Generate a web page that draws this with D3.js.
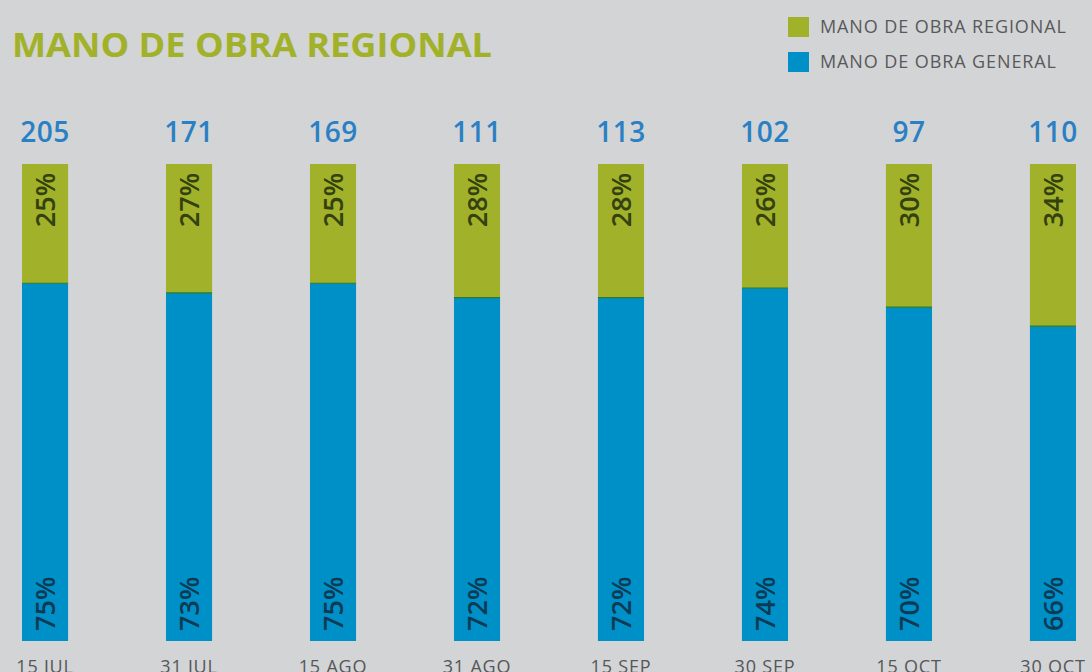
<!DOCTYPE html>
<html>
<head>
<meta charset="utf-8">
<script src="https://cdn.jsdelivr.net/npm/d3@7"></script>
<style>
  html, body { margin: 0; padding: 0; background: #d3d4d6; }
  svg { display: block; font-family: "Open Sans", sans-serif; }
</style>
</head>
<body>
<script>
// data
var fechas = ["15 JUL", "31 JUL", "15 AGO", "31 AGO", "15 SEP", "30 SEP", "15 OCT", "30 OCT"];
var totales = [205, 171, 169, 111, 113, 102, 97, 110];
var general = [75, 73, 75, 72, 72, 74, 70, 66];
var regional = [25, 27, 25, 28, 28, 26, 30, 34];
var series = ["MANO DE OBRA REGIONAL", "MANO DE OBRA GENERAL"];

var w = 1092, h = 672;
var verde = "#a1b22a", azul = "#0090c8";

var svg = d3.select("body").append("svg")
    .attr("width", w)
    .attr("height", h);

svg.append("rect").attr("width", w).attr("height", h).attr("fill", "#d3d4d6");

var x = d3.scaleBand()
    .domain(fechas)
    .range([22, 1076])
    .paddingInner(0.68)
    .paddingOuter(0);

var y = d3.scaleLinear()
    .domain([0, 100])
    .range([641, 164]);

var rows = fechas.map(function(f, i) {
  return {fecha: f, total: totales[i], general: general[i], regional: regional[i]};
});

var bar = svg.selectAll("g.bar")
  .data(rows)
  .enter().append("g")
    .attr("class", "bar");

// regional on top
bar.append("rect")
    .attr("x", function(d) { return x(d.fecha); })
    .attr("width", x.bandwidth())
    .attr("y", function(d) { return y(d.general + d.regional); })
    .attr("height", function(d) { return y(d.general) - y(d.general + d.regional); })
    .attr("fill", verde);

bar.append("rect")
    .attr("x", function(d) { return x(d.fecha); })
    .attr("width", x.bandwidth())
    .attr("y", function(d) { return y(d.general); })
    .attr("height", function(d) { return y(0) - y(d.general); })
    .attr("fill", azul);

bar.append("line")
    .attr("x1", function(d) { return x(d.fecha); })
    .attr("x2", function(d) { return x(d.fecha) + x.bandwidth(); })
    .attr("y1", function(d) { return y(d.general); })
    .attr("y2", function(d) { return y(d.general); })
    .attr("stroke", "#2f7a2a")
    .attr("stroke-width", 1.2);

// percent labels, rotated
bar.append("text")
    .attr("transform", function(d) {
      return "translate(" + (x(d.fecha) + x.bandwidth() / 2) + "," + (y(d.general + d.regional) + 9) + ")rotate(-90)";
    })
    .attr("text-anchor", "end")
    .attr("dy", "0.36em")
    .attr("fill", "#34400f")
    .style("font-size", "27px")
    .style("font-weight", 600)
    .text(function(d) { return d.regional + "%"; });

bar.append("text")
    .attr("transform", function(d) {
      return "translate(" + (x(d.fecha) + x.bandwidth() / 2) + "," + (y(0) - 10) + ")rotate(-90)";
    })
    .attr("text-anchor", "start")
    .attr("dy", "0.36em")
    .attr("fill", "#0e3a55")
    .style("font-size", "27px")
    .style("font-weight", 600)
    .text(function(d) { return d.general + "%"; });

// totals
bar.append("text")
    .attr("x", function(d) { return x(d.fecha) + x.bandwidth() / 2; })
    .attr("y", 142)
    .attr("text-anchor", "middle")
    .attr("fill", "#2a80c4")
    .style("font-size", "28px")
    .style("font-weight", 600)
    .style("letter-spacing", "0.5px")
    .text(function(d) { return d.total; });

// date labels
bar.append("text")
    .attr("x", function(d) { return x(d.fecha) + x.bandwidth() / 2; })
    .attr("y", 673)
    .attr("text-anchor", "middle")
    .attr("fill", "#555759")
    .style("font-size", "18px")
    .style("letter-spacing", "0.8px")
    .text(function(d) { return d.fecha; });

// title
svg.append("text")
    .attr("x", 12)
    .attr("y", 57)
    .attr("fill", verde)
    .style("font-size", "34px")
    .style("font-weight", 700)
    .attr("textLength", 480)
    .attr("lengthAdjust", "spacingAndGlyphs")
    .text("MANO DE OBRA REGIONAL");

// legend
var legend = svg.selectAll("g.legend")
  .data(series)
  .enter().append("g")
    .attr("class", "legend")
    .attr("transform", function(d, i) { return "translate(788," + (17 + i * 35) + ")"; });

legend.append("rect")
    .attr("width", 21)
    .attr("height", 20)
    .attr("fill", function(d, i) { return i === 0 ? verde : azul; });

legend.append("text")
    .attr("x", 32)
    .attr("y", 16)
    .attr("fill", "#58595b")
    .style("font-size", "18px")
    .style("letter-spacing", "0.9px")
    .text(function(d) { return d; });
</script>
</body>
</html>
